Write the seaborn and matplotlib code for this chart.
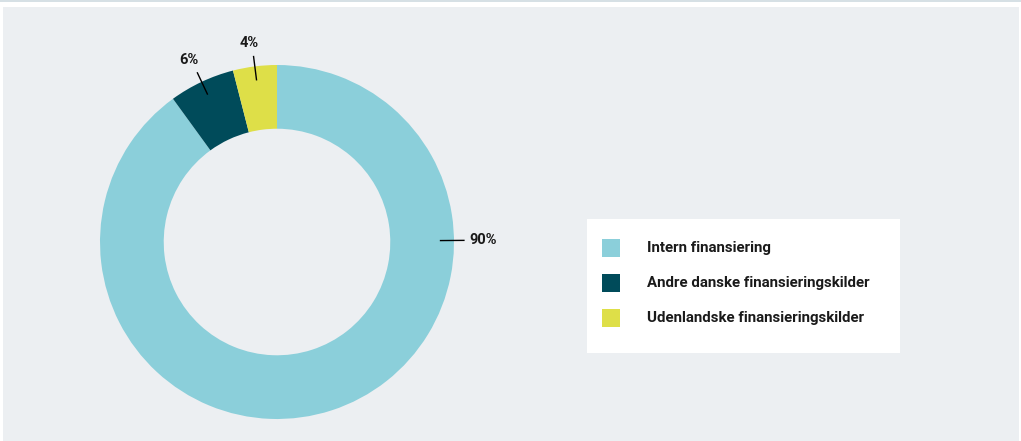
import numpy as np
import seaborn as sns
import matplotlib.pyplot as plt
from matplotlib.patches import Rectangle

sns.set_theme(style="white")
plt.rcParams['font.family'] = ['Roboto', 'DejaVu Sans']

# data
labels = ['Intern finansiering', 'Andre danske finansieringskilder', 'Udenlandske finansieringskilder']
shares = [90, 6, 4]
pct_text = ['90%', '6%', '4%']
colors = ['#8bcfda', '#004b5a', '#dedf48']

W, H = 1021, 441
fig = plt.figure(figsize=(W / 100, H / 100), dpi=100)
fig.patch.set_facecolor('white')

# background panel and thin top rule
fig.patches.append(Rectangle((3 / W, 0), 1016 / W, (H - 7) / H, transform=fig.transFigure,
                             facecolor='#eceff2', edgecolor='none', zorder=-2))
fig.patches.append(Rectangle((0, (H - 2) / H), 1, 2 / H, transform=fig.transFigure,
                             facecolor='#d6e0e5', edgecolor='none', zorder=-2))

# donut axes, centre (277, 242) px, radius 177 px
cx, cy, r = 277, 242, 177
ax = fig.add_axes([(cx - r) / W, (H - cy - r) / H, 2 * r / W, 2 * r / H])
ax.set_facecolor('none')
wedges, _ = ax.pie(shares, colors=colors, startangle=90, counterclock=False,
                   radius=1, wedgeprops=dict(width=0.36, edgecolor='none'))
ax.set_xlim(-1, 1)
ax.set_ylim(-1, 1)
ax.set_aspect('auto')
ax.axis('off')

# percentage labels with short leader lines
for i, w in enumerate(wedges):
    ang = (w.theta1 + w.theta2) / 2
    if i == 0:
        ang = 0.5
    a = np.deg2rad(ang)
    r0, r1, rt = (0.92, 1.06, 1.085) if i == 0 else (0.92, 1.06, 1.13)
    ax.plot([r0 * np.cos(a), r1 * np.cos(a)], [r0 * np.sin(a), r1 * np.sin(a)],
            color='black', lw=1, solid_capstyle='butt', clip_on=False)
    if i == 0:
        ax.text(rt * np.cos(a), rt * np.sin(a), pct_text[i], ha='left', va='center',
                fontsize=10.5, fontweight='bold', color='#1a1a1a')
    else:
        ax.text(rt * np.cos(a) - 0.015, rt * np.sin(a) + 0.005, pct_text[i], ha='center', va='center',
                fontsize=10.5, fontweight='bold', color='#1a1a1a')

# legend box
fig.patches.append(Rectangle((587 / W, (H - 353) / H), 313 / W, 134 / H, transform=fig.transFigure,
                             facecolor='white', edgecolor='none', zorder=1))
sq = 18
for i, lab in enumerate(labels):
    yc = 248 + 35 * i
    fig.patches.append(Rectangle((602 / W, (H - yc - sq / 2) / H), sq / W, sq / H,
                                 transform=fig.transFigure, facecolor=colors[i],
                                 edgecolor='none', zorder=2))
    fig.text(647 / W, (H - yc) / H, lab, ha='left', va='center', fontsize=10.8,
             fontweight='bold', color='#1a1a1a', zorder=3)

fig.savefig('out.png', dpi=100, facecolor=fig.get_facecolor())
